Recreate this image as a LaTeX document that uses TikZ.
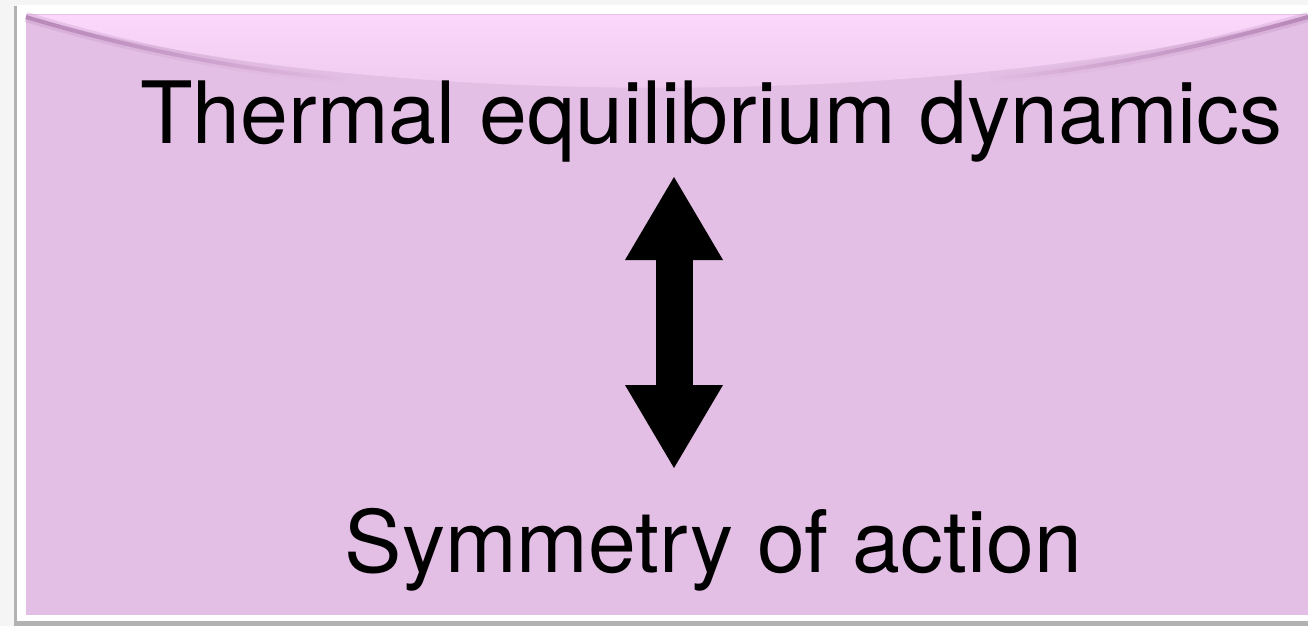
\documentclass[tikz,border=0pt]{standalone}
\usepackage{fontspec}
\setmainfont{TeX Gyre Heros}
\usetikzlibrary{arrows.meta,fadings}
\definecolor{pinkbase}{HTML}{E4BFE5}
\definecolor{pinkdark}{HTML}{D7ABD8}
\definecolor{pinkright}{HTML}{DDB4DE}
\definecolor{pinklight}{HTML}{FBD8FB}
\definecolor{curl}{HTML}{B888B9}
\pgfdeclarehorizontalshading{panelshade}{100bp}{color(0bp)=(pinkdark); color(14bp)=(pinkbase); color(86bp)=(pinkbase); color(100bp)=(pinkright)}
\tikzfading[name=fadeout, left color=transparent!0, right color=transparent!100]
\tikzfading[name=fadein, left color=transparent!100, right color=transparent!0]
\tikzset{
  lbl/.style={font=\fontsize{86}{100}\selectfont, inner sep=0pt, anchor=base, text=black},
  dbl/.style={line width=37pt, black,
    arrows={Triangle[width=98pt,length=83pt,line width=0pt]-Triangle[width=98pt,length=83pt,line width=0pt]}},
}
\begin{document}
\begin{tikzpicture}[x=1pt,y=-1pt]
\useasboundingbox (0,0) rectangle (1308,626);
% page and frame
\fill[black!4] (0,0) rectangle (1308,626);
\fill[black!30] (14,6) rectangle (1308,626);
\fill[white] (17,5) rectangle (1308,621);
% pink panel
\shade[shading=panelshade] (26,15) rectangle (1308,614);
% top light region
\shade[top color=pinklight, bottom color=pinkbase!70!pinklight]
  (26,15) .. controls (350,112) and (960,112) .. (1308,15) -- cycle;
% curl streaks near the corners
\draw[curl, line width=10pt, opacity=0.3, path fading=fadeout]
  (26,17) .. controls (124,46.5) and (232,69.5) .. (345,79);
\draw[curl, line width=4pt, path fading=fadeout]
  (26,17) .. controls (124,46.5) and (232,69.5) .. (345,79);
\draw[curl, line width=10pt, opacity=0.3, path fading=fadein]
  (990,79) .. controls (1100,69.5) and (1203,46.5) .. (1308,17);
\draw[curl, line width=4pt, path fading=fadein]
  (990,79) .. controls (1100,69.5) and (1203,46.5) .. (1308,17);
% texts
\node[lbl] (top) at (711.5,143) {Thermal equilibrium dynamics};
\node[lbl] (bot) at (713.5,572) {Symmetry of action};
% arrow
\coordinate (tipA) at (674,177);
\coordinate (tipB) at (674,468);
\draw[dbl] (tipA) -- (tipB);
\end{tikzpicture}
\end{document}
